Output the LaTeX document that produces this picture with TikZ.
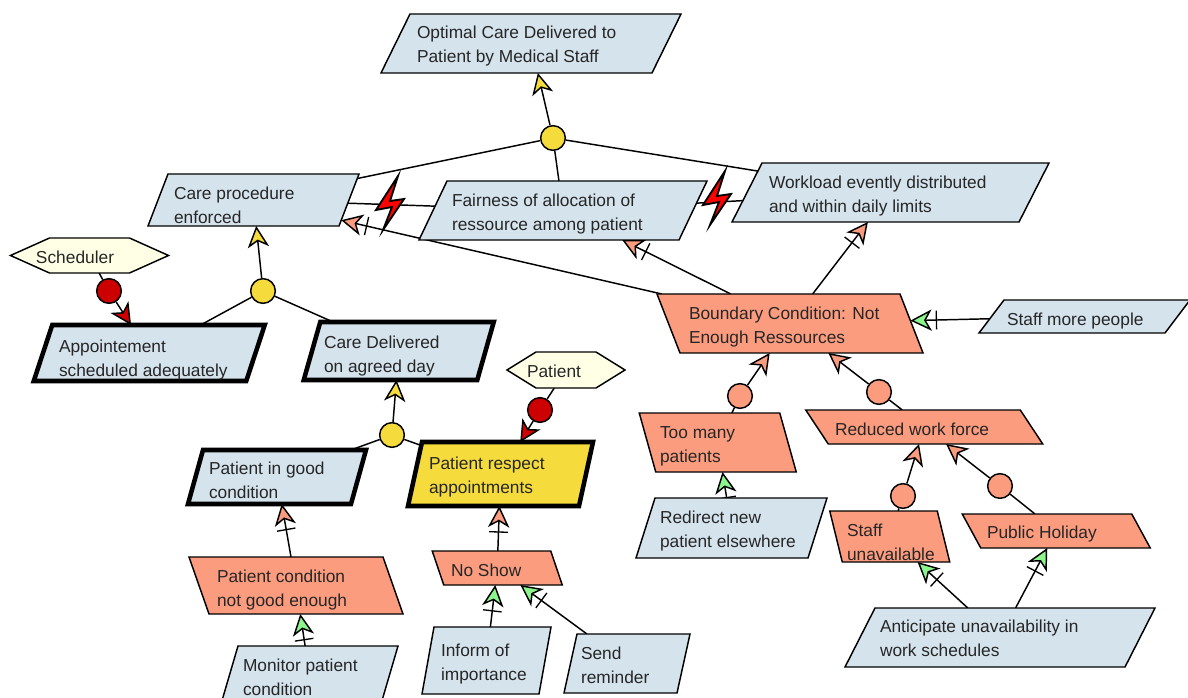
\documentclass[tikz,border=0pt]{standalone}
\usepackage{fontspec}
\setmainfont{Liberation Sans}
\usetikzlibrary{arrows.meta,decorations.markings,shapes.geometric}
\pgfdeclarelayer{background}
\pgfsetlayers{background,main}
\definecolor{goalblue}{HTML}{D5E3ED}
\definecolor{salmon}{HTML}{FC9C7F}
\definecolor{goalyellow}{HTML}{F5DC3C}
\definecolor{agentcream}{HTML}{FFFFE6}
\definecolor{agentred}{HTML}{CC0000}
\definecolor{boltred}{HTML}{FF0000}
\definecolor{resgreen}{HTML}{8CF58C}
\newdimen\pxu \pxu=0.75pt
\tikzset{pw/.store in=\pPw, ph/.store in=\pPh, ps/.store in=\pPs, ptx/.store in=\pPtx,
  pty/.store in=\pPty, ptip/.store in=\pPtip, pw=50, ph=20, ps=0, ptx=0, pty=0, ptip=0}
\makeatletter
\pgfdeclareshape{slantbox}{
  \saveddimen{\sw}{\pgf@x=\pPw\pxu}
  \saveddimen{\sh}{\pgf@x=\pPh\pxu}
  \saveddimen{\ss}{\pgf@x=\pPs\pxu}
  \saveddimen{\stip}{\pgf@x=\pPtip\pxu}
  \saveddimen{\stx}{\pgf@x=\pPtx\pxu}
  \saveddimen{\sty}{\pgf@x=-\pPty\pxu
    \pgf@y=\ht\pgfnodeparttextbox \advance\pgf@y by -\dp\pgfnodeparttextbox
    \advance\pgf@x by -.5\pgf@y}
  \anchor{center}{\pgfpointorigin}
  \anchor{text}{\pgfpoint{\stx}{\sty}}
  \anchorborder{%
    \edef\myxd{\pgf@sys@tonumber\pgf@x}\edef\myyd{\pgf@sys@tonumber\pgf@y}%
    \pgfmathsetmacro\myxp{abs(\myxd-\myyd*(\ss/\sh))}%
    \pgfmathsetmacro\myt{min(\sw/max(\myxp,0.02),\sh/max(abs(\myyd),0.02))}%
    \pgf@x=\myxd pt \pgf@y=\myyd pt
    \pgf@x=\myt\pgf@x \pgf@y=\myt\pgf@y
  }
  \backgroundpath{%
    \pgfpathmoveto{\pgfpoint{-\sw+\ss}{\sh}}%
    \pgfpathlineto{\pgfpoint{\sw+\ss}{\sh}}%
    \pgfpathlineto{\pgfpoint{\sw+\stip}{0pt}}%
    \pgfpathlineto{\pgfpoint{\sw-\ss}{-\sh}}%
    \pgfpathlineto{\pgfpoint{-\sw-\ss}{-\sh}}%
    \pgfpathlineto{\pgfpoint{-\sw-\stip}{0pt}}%
    \pgfpathclose
  }
}
\makeatother
\tikzset{
  x=0.75pt, y=-0.75pt,
  base/.style={shape=slantbox, draw=black, line width=1.1pt, line join=miter, align=left,
    font=\fontsize{13}{18}\selectfont, text=black!85,
    execute at begin node=\strut, execute at end node=\strut},
  goal/.style={base, fill=goalblue},
  keygoal/.style={goal, line width=3.4pt},
  expect/.style={base, fill=goalyellow, line width=3.4pt},
  obstacle/.style={base, fill=salmon},
  agent/.style={base, fill=agentcream},
  dot/.style={circle, draw=black, line width=1.1pt, minimum size=18.5pt, inner sep=0pt},
  goaldot/.style={dot, fill=goalyellow},
  obsdot/.style={dot, fill=salmon},
  agentdot/.style={dot, fill=agentred},
  link/.style={draw=black, line width=1.1pt},
  headY/.style={link, -{Stealth[length=16pt,width=16pt,inset=4.5pt,fill=goalyellow]}},
  headS/.style={link, -{Stealth[length=16pt,width=16pt,inset=4.5pt,fill=salmon]}},
  headR/.style={link, -{Stealth[length=16pt,width=16pt,inset=4.5pt,fill=agentred]}},
  headG/.style={link, -{Stealth[length=16pt,width=16pt,inset=4.5pt,fill=resgreen]}},
  crossbar/.style={postaction={decorate}, decoration={markings,
    mark=at position -19.5pt with {\draw[arrows=-,line width=1pt,black] (0pt,-7pt)--(0pt,7pt);}}},
  boltfig/.style={draw=black, line width=1.4pt, fill=boltred, line join=miter},
  bolt/.pic={\path[boltfig] (8,-29)--(-14,5)--(2,2)--(-7,25)--(14,-6)--(0,-4)--cycle;}
}
\newcommand\pbox[5]{\parsepts #3;#4;\node[#2,pw=\pwv,ph=\phv,ps=\psv,ptx=\ptxv,pty=\ptyv] (#1) at (\pcx,\pcy) {#5};}
\def\parsepts#1,#2,#3,#4,#5,#6;#7,#8;{%
  \pgfmathsetmacro\pcx{(#1+#2+#4+#5)/4}%
  \pgfmathsetmacro\pcy{(#3+#6)/2}%
  \pgfmathsetmacro\pwv{(#2-#1+#5-#4)/4}%
  \pgfmathsetmacro\phv{(#6-#3)/2}%
  \pgfmathsetmacro\psv{(#1+#2-#4-#5)/4}%
  \pgfmathsetmacro\ptxv{#7-\pcx}%
  \pgfmathsetmacro\ptyv{#8-\pcy}}
\begin{document}
\begin{tikzpicture}
\useasboundingbox (0,0) rectangle (1188,698);
\clip (0,0) rectangle (1188,698);
% boxes: TLx,TRx,yT,BLx,BRx,yB ; textX,textCentreY
\pbox{optimal}{goal}{410,681,14,381,652,73}{417,48}{Optimal Care Delivered to\\Patient by Medical Staff}
\pbox{care}{goal}{168,359,174,148,339,226}{174,209}{Care procedure\\enforced}
\pbox{fair}{goal}{447,707,181,419,679,240}{452,216}{Fairness of allocation of\\ressource among patient}
\pbox{work}{goal}{762,1049,163,732,1019,222}{769,198}{Workload evently distributed\\and within daily limits}
\pbox{bound}{obstacle}{657,900,294,680,923,353}{689,329}{Boundary Condition: Not\\Enough Ressources}
\pbox{staffmore}{goal}{1004,1190,300,979,1165,333}{1007,321}{Staff more people}
\pbox{appt}{keygoal}{52,265,325,34,246,381}{59,362}{Appointement\\scheduled adequately}
\pbox{delivered}{keygoal}{320,494,322,304,477,380}{324,358}{Care Delivered\\on agreed day}
\pbox{good}{keygoal}{203,366,450,188,351,504}{209,484}{Patient in good\\condition}
\pbox{respect}{expect}{422,593,442,408,579,506}{429,479}{Patient respect\\appointments}
\pbox{pcond}{obstacle}{189,383,557,209,403,614}{217,592}{Patient condition\\not good enough}
\pbox{noshow}{obstacle}{432,551,551,444,562,585}{451,572}{No Show}
\pbox{monitor}{goal}{238,398,646,221,381,704}{243,681}{Monitor patient\\condition}
\pbox{inform}{goal}{434,551,627,422,539,694}{441,666}{Inform of\\importance}
\pbox{send}{goal}{577,690,634,564,677,693}{581,669}{Send\\reminder}
\pbox{toomany}{obstacle}{640,779,413,655,797,472}{660,448}{Too many\\patients}
\pbox{redirect}{goal}{655,827,498,636,808,558}{660,533}{Redirect new\\patient elsewhere}
\pbox{reduced}{obstacle}{806,1020,410,828,1043,444}{835,431}{Reduced work force}
\pbox{staffun}{obstacle}{830,937,511,842,950,562}{847,546}{Staff\\unavailable}
\pbox{holiday}{obstacle}{963,1131,514,980,1151,548}{987,534}{Public Holiday}
\pbox{anticip}{goal}{875,1155,608,845,1125,667}{880,642}{Anticipate unavailability in\\work schedules}
\node[agent,pw=40,ph=17.5,ptip=39,ptx=-53.5,pty=3] (sched) at (89.5,255.5) {Scheduler};
\node[agent,pw=30,ph=18,ptip=29,ptx=-39,pty=3] (patient) at (566,370) {Patient};
% junction circles
\node[goaldot] (j1) at (553,138) {};
\node[goaldot] (j2) at (263,291) {};
\node[goaldot] (j3) at (392,435) {};
\node[agentdot] (a1) at (109,291) {};
\node[agentdot] (a2) at (540,410) {};
\node[obsdot] (o1) at (740,396) {};
\node[obsdot] (o2) at (879,392) {};
\node[obsdot] (o3) at (903,496) {};
\node[obsdot] (o4) at (1000,486) {};
\begin{pgfonlayer}{background}
\draw[headY] (j1) -- (optimal);
\draw[link] (j1) -- (care);
\draw[link] (j1) -- (fair);
\draw[link] (j1) -- (work);
\draw[link] (care) -- (fair);
\draw[link] (fair) -- (work);
\draw[headS,crossbar] (bound) -- (care);
\draw[headS,crossbar] (bound) -- (fair);
\draw[headS,crossbar] (bound) -- (work);
\draw[headG,crossbar] (staffmore) -- (bound);
\draw[headY] (j2) -- (care);
\draw[link] (j2) -- (appt);
\draw[link] (j2) -- (delivered);
\draw[headY] (j3) -- (delivered);
\draw[link] (j3) -- (good);
\draw[link] (j3) -- (respect);
\draw[link] (sched) -- (a1);
\draw[headR] (a1) -- (appt);
\draw[link] (patient) -- (a2);
\draw[headR] (a2) -- (respect);
\draw[headS,crossbar] (pcond) -- (good);
\draw[headS,crossbar] (noshow) -- (respect);
\draw[headG,crossbar] (monitor) -- (pcond);
\draw[headG,crossbar] (inform) -- (noshow);
\draw[headG,crossbar] (send) -- (noshow);
\draw[link] (toomany) -- (o1);
\draw[headS] (o1) -- (bound);
\draw[headG,crossbar] (redirect) -- (toomany);
\draw[link] (reduced) -- (o2);
\draw[headS] (o2) -- (bound);
\draw[link] (staffun) -- (o3);
\draw[headS] (o3) -- (reduced);
\draw[link] (holiday) -- (o4);
\draw[headS] (o4) -- (reduced);
\draw[headG,crossbar] (anticip) -- (staffun);
\draw[headG,crossbar] (anticip) -- (holiday);
\end{pgfonlayer}
\pic at (390,205) {bolt};
\pic at (717,200) {bolt};
\end{tikzpicture}
\end{document}
